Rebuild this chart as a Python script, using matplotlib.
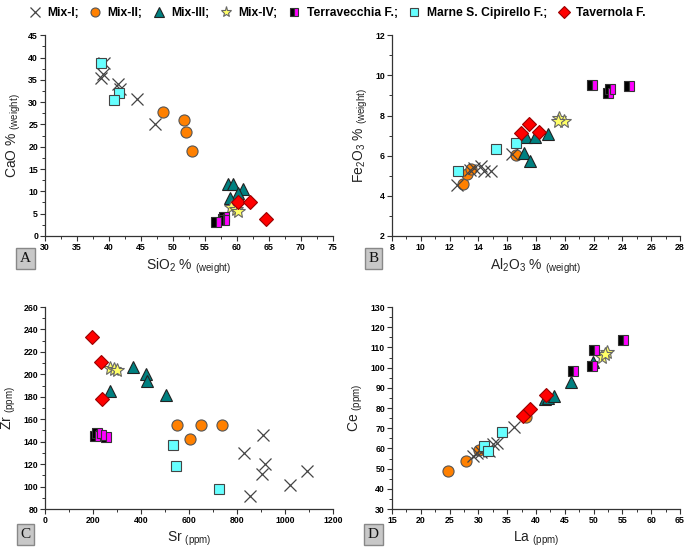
import matplotlib
matplotlib.use("Agg")
import matplotlib.pyplot as plt
from matplotlib.lines import Line2D
from matplotlib.ticker import MultipleLocator

plt.rcParams['font.family'] = ['Liberation Sans', 'DejaVu Sans']
plt.rcParams['mathtext.fontset'] = 'custom'
plt.rcParams['mathtext.rm'] = 'Liberation Sans'
plt.rcParams['mathtext.it'] = 'Liberation Sans:italic'
plt.rcParams['mathtext.bf'] = 'Liberation Sans:bold'

# ---------------- data ----------------
group_labels = ["Mix-I;", "Mix-II;", "Mix-III;", "Mix-IV;", "Terravecchia F.;",
                "Marne S. Cipirello F.;", "Tavernola F."]

# Panel A: SiO2 vs CaO
sio2_mix1 = [39.2, 39.0, 38.8, 41.4, 41.7, 44.3, 47.2]
cao_mix1 = [38.8, 36.2, 35.5, 34.0, 33.0, 30.8, 25.0]
sio2_mix2 = [48.4, 51.7, 52.0, 52.9]
cao_mix2 = [27.7, 25.9, 23.3, 19.0]
sio2_mix3 = [58.6, 59.4, 60.9, 60.1, 58.9]
cao_mix3 = [11.6, 11.7, 10.5, 9.6, 8.6]
sio2_mix4 = [59.1, 59.9, 60.2]
cao_mix4 = [6.4, 6.0, 5.5]
sio2_terr = [56.7, 57.8, 58.0, 57.9]
cao_terr = [3.1, 3.8, 4.3, 3.6]
sio2_marne = [38.8, 41.6, 40.8]
cao_marne = [38.8, 32.1, 30.5]
sio2_tav = [60.2, 62.1, 64.5]
cao_tav = [7.6, 7.5, 3.8]

# Panel B: Al2O3 vs Fe2O3
al_mix1 = [12.5, 13.4, 13.7, 14.2, 14.4, 14.9, 16.3]
fe_mix1 = [4.55, 5.3, 5.4, 5.5, 5.25, 5.25, 6.1]
al_mix2 = [12.9, 13.2, 13.5, 16.6]
fe_mix2 = [4.6, 5.1, 5.35, 6.05]
al_mix3 = [17.3, 17.9, 18.8, 17.2, 17.55]
fe_mix3 = [6.95, 6.95, 7.1, 6.15, 5.75]
al_mix4 = [19.6, 19.95, 19.5]
fe_mix4 = [7.9, 7.75, 7.75]
al_terr = [21.9, 23.0, 23.15, 24.45]
fe_terr = [9.52, 9.14, 9.3, 9.49]
al_marne = [12.6, 15.2, 16.6]
fe_marne = [5.22, 6.33, 6.63]
al_tav = [16.95, 17.5, 18.2]
fe_tav = [7.12, 7.59, 7.2]

# Panel C: Sr vs Zr
sr_mix1 = [909, 830, 916, 905, 853, 1022, 1092]
zr_mix1 = [146, 130, 120, 111, 92, 101, 114]
sr_mix2 = [551, 648, 739, 605]
zr_mix2 = [155, 155, 155, 142]
sr_mix3 = [365, 420, 423, 506, 270]
zr_mix3 = [206.5, 200.5, 194, 182, 185]
sr_mix4 = [270, 289, 302]
zr_mix4 = [205.6, 204.8, 204.2]
sr_terr = [208, 215, 232, 253]
zr_terr = [145.5, 147.5, 146, 144]
sr_marne = [534, 544, 723]
zr_marne = [137, 118, 98]
sr_tav = [194, 233, 236]
zr_tav = [233, 211, 178]

# Panel D: La vs Ce
la_mix1 = [29.0, 29.8, 30.5, 31.9, 32.6, 33.3, 36.2]
ce_mix1 = [56.3, 57.5, 58.0, 58.5, 62.0, 62.8, 70.8]
la_mix2 = [24.8, 27.9, 30.1, 38.2]
ce_mix2 = [48.8, 53.6, 59.4, 75.4]
la_mix3 = [41.5, 42.0, 43.2, 46.0, 49.9]
ce_mix3 = [84.6, 85.0, 85.8, 92.7, 103.0]
la_mix4 = [51.5, 52.4, 51.9]
ce_mix4 = [105.2, 107.9, 106.5]
la_terr = [50.1, 46.5, 49.8, 55.1]
ce_terr = [108.9, 98.5, 101.0, 113.9]
la_marne = [34.1, 31.0, 31.7]
ce_marne = [68.1, 61.4, 58.5]
la_tav = [37.8, 38.9, 41.8]
ce_tav = [75.9, 79.5, 86.6]

# ---------------- styles ----------------
styles = {
    "mix1": dict(marker='x', ms=9, mew=0.9, color='#444444', linestyle='none'),
    "mix2": dict(marker='o', ms=8, mfc='#ff8000', mec='#555555', mew=0.8, linestyle='none'),
    "mix3": dict(marker='^', ms=9, mfc='#008080', mec='#222222', mew=0.8, linestyle='none'),
    "mix4": dict(marker='*', ms=10, mfc='#ffff66', mec='#666666', mew=0.8, linestyle='none'),
    "terr": dict(marker='s', ms=7, fillstyle='left', mfc='#000000', mfcalt='#ff00ff',
                 mec='#333333', mew=0.8, linestyle='none'),
    "marne": dict(marker='s', ms=7, mfc='#66ffff', mec='#444444', mew=0.8, linestyle='none'),
    "tav": dict(marker='D', ms=7.5, mfc='#ff0000', mec='#990000', mew=0.8, linestyle='none'),
}
legend_ms = {"mix1": 7, "mix2": 6.5, "mix3": 7, "mix4": 8, "terr": 5.5, "marne": 5.5, "tav": 6.5}
order = ["mix2", "mix1", "mix3", "mix4", "terr", "marne", "tav"]
legend_order = ["mix1", "mix2", "mix3", "mix4", "terr", "marne", "tav"]

fig = plt.figure(figsize=(6.85, 5.5), dpi=100)

panels = [
    dict(rect=[0.0657, 0.571, 0.4204, 0.365],
         data={"mix1": (sio2_mix1, cao_mix1), "mix2": (sio2_mix2, cao_mix2),
               "mix3": (sio2_mix3, cao_mix3), "mix4": (sio2_mix4, cao_mix4),
               "terr": (sio2_terr, cao_terr), "marne": (sio2_marne, cao_marne),
               "tav": (sio2_tav, cao_tav)},
         xlim=(30, 75), ylim=(0, 45), xmaj=5, xmin=2.5, ymaj=5, ymin=2.5,
         xlabel=r"SiO$_2$ % $_{\mathregular{(weight)}}$",
         ylabel=r"CaO % $_{\mathregular{(weight)}}$", tag="A",
         tagpos=(15, 249)),
    dict(rect=[0.5723, 0.571, 0.4204, 0.365],
         data={"mix1": (al_mix1, fe_mix1), "mix2": (al_mix2, fe_mix2),
               "mix3": (al_mix3, fe_mix3), "mix4": (al_mix4, fe_mix4),
               "terr": (al_terr, fe_terr), "marne": (al_marne, fe_marne),
               "tav": (al_tav, fe_tav)},
         xlim=(8, 28), ylim=(2, 12), xmaj=2, xmin=1, ymaj=2, ymin=1,
         xlabel=r"Al$_2$O$_3$ % $_{\mathregular{(weight)}}$",
         ylabel=r"Fe$_2$O$_3$ % $_{\mathregular{(weight)}}$", tag="B",
         tagpos=(363, 249)),
    dict(rect=[0.0657, 0.0745, 0.4204, 0.3673],
         data={"mix1": (sr_mix1, zr_mix1), "mix2": (sr_mix2, zr_mix2),
               "mix3": (sr_mix3, zr_mix3), "mix4": (sr_mix4, zr_mix4),
               "terr": (sr_terr, zr_terr), "marne": (sr_marne, zr_marne),
               "tav": (sr_tav, zr_tav)},
         xlim=(0, 1200), ylim=(80, 260), xmaj=200, xmin=100, ymaj=20, ymin=10,
         xlabel=r"Sr $_{\mathregular{(ppm)}}$",
         ylabel=r"Zr $_{\mathregular{(ppm)}}$", tag="C",
         tagpos=(15, 525)),
    dict(rect=[0.5723, 0.0745, 0.4204, 0.3673],
         data={"mix1": (la_mix1, ce_mix1), "mix2": (la_mix2, ce_mix2),
               "mix3": (la_mix3, ce_mix3), "mix4": (la_mix4, ce_mix4),
               "terr": (la_terr, ce_terr), "marne": (la_marne, ce_marne),
               "tav": (la_tav, ce_tav)},
         xlim=(15, 65), ylim=(30, 130), xmaj=5, xmin=2.5, ymaj=10, ymin=5,
         xlabel=r"La $_{\mathregular{(ppm)}}$",
         ylabel=r"Ce $_{\mathregular{(ppm)}}$", tag="D",
         tagpos=(363, 525)),
]

W, H = 685, 550
for p in panels:
    ax = fig.add_axes(p["rect"])
    for key in order:
        xs, ys = p["data"][key]
        ax.plot(xs, ys, clip_on=False, **styles[key])
    ax.set_xlim(*p["xlim"])
    ax.set_ylim(*p["ylim"])
    ax.xaxis.set_major_locator(MultipleLocator(p["xmaj"]))
    ax.xaxis.set_minor_locator(MultipleLocator(p["xmin"]))
    ax.yaxis.set_major_locator(MultipleLocator(p["ymaj"]))
    ax.yaxis.set_minor_locator(MultipleLocator(p["ymin"]))
    for s in ("top", "right"):
        ax.spines[s].set_visible(False)
    for s in ("left", "bottom"):
        ax.spines[s].set_color('#333333')
        ax.spines[s].set_linewidth(0.9)
    ax.tick_params(which='major', direction='out', length=3.5, width=0.8,
                   color='#333333', labelsize=6.3, pad=1.5)
    ax.tick_params(which='minor', direction='out', length=2, width=0.7, color='#333333')
    for lab in ax.get_xticklabels() + ax.get_yticklabels():
        lab.set_fontweight('bold')
    ax.set_xlabel(p["xlabel"], fontsize=10, color='#222222', labelpad=3.5)
    ax.set_ylabel(p["ylabel"], fontsize=10, color='#222222', labelpad=4)
    # letter tag box
    tx, ty = p["tagpos"]
    fig.text((tx + 10.5) / W, 1 - (ty + 9.5) / H, p["tag"], family='Liberation Serif',
             fontsize=11, ha='center', va='center', color='#111111',
             bbox=dict(boxstyle='square,pad=0.25', fc='#c8c8c8', ec='#888888', lw=1.0))

handles = []
for k in legend_order:
    st = dict(styles[k])
    st["ms"] = legend_ms[k]
    handles.append(Line2D([], [], **st))
leg = fig.legend(handles, group_labels, loc='center', bbox_to_anchor=(0.492, 0.976),
                 ncol=7, frameon=False, handletextpad=0.5, columnspacing=0.9,
                 handlelength=1.0, borderaxespad=0, borderpad=0,
                 prop=dict(weight='bold', size=8.7))

fig.savefig("out.png", dpi=100)
